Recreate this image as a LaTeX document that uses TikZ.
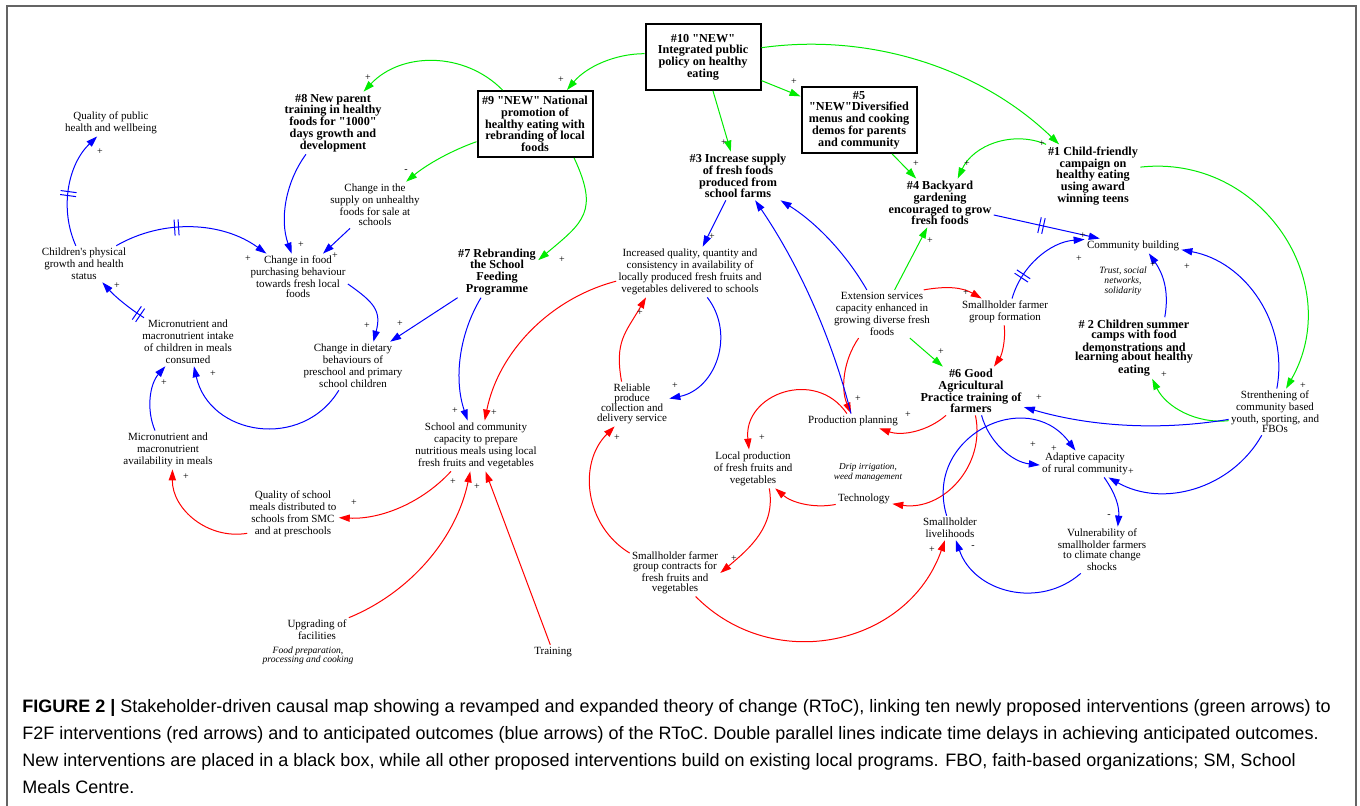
\documentclass[tikz,border=0pt]{standalone}
\usepackage{fontspec}
\setmainfont{Liberation Serif}[Ligatures=TeXOff]
\newfontfamily\capfont{Liberation Sans}
\usetikzlibrary{arrows.meta,decorations.markings,calc}
\definecolor{lgreen}{RGB}{0,235,0}
\definecolor{lred}{RGB}{255,0,0}
\definecolor{lblue}{RGB}{0,0,255}
\definecolor{framegray}{RGB}{100,100,100}
\newcommand\qq{\char34\relax}
\tikzset{
  tx/.style={align=center, inner sep=1pt, font=\fontsize{5.5}{6}\selectfont},
  txt/.style={tx, font=\fontsize{5.5}{5}\selectfont},
  bx/.style={align=center, inner sep=1pt, font=\bfseries\fontsize{6.1}{5.9}\selectfont},
  newbox/.style={bx, draw, line width=1pt, minimum width=57.5pt, minimum height=33pt},
  itx/.style={align=center, inner sep=0.5pt, font=\itshape\fontsize{4.6}{5}\selectfont},
  pol/.style={inner sep=0pt, font=\fontsize{5}{5}\selectfont},
  captxt/.style={inner sep=0pt, anchor=base west, font=\capfont\fontsize{9}{11}\selectfont},
  lk/.style={line width=0.5pt, -{Triangle[length=5.5pt,width=3.6pt]}},
  ga/.style={lk, draw=lgreen},
  ra/.style={lk, draw=lred},
  ba/.style={lk, draw=lblue},
  bl/.code={\pgfmathsetmacro\myls{4/3*tan(#1/2)/(0.783*sin(#1))}%
    \edef\myarcnext{\noexpand\pgfkeysalso{bend left=#1,looseness=\myls}}\myarcnext},
  br/.code={\pgfmathsetmacro\myls{4/3*tan(#1/2)/(0.783*sin(#1))}%
    \edef\myarcnext{\noexpand\pgfkeysalso{bend right=#1,looseness=\myls}}\myarcnext},
  dl/.style={postaction={decorate,decoration={markings,mark=at position #1 with
    {\draw[lblue,line width=0.5pt,-] (-2,-8)--(-2,8) (2,-8)--(2,8);}}}}
}
\begin{document}
\begin{tikzpicture}[x=0.5pt,y=0.5pt]
\useasboundingbox (0,0) rectangle (1360,-806);
\draw[framegray, line width=0.8pt] (7,-806) -- (7,-6) -- (1356,-6) -- (1356,-806);

% boxed new interventions
\node[newbox] (n10) at (703,-57) {\#10 \qq NEW\qq\\Integrated public\\policy on healthy\\eating};
\node[newbox] (n9) at (535,-124) {\#9 \qq NEW\qq{} National\\promotion of\\healthy eating with\\rebranding of local\\foods};
\node[newbox] (n5) at (859,-120) {\#5\\\qq NEW\qq Diversified\\menus and cooking\\demos for parents\\and community};

% bold interventions
\node[bx] (n8) at (333,-123) {\#8 New parent\\training in healthy\\foods for \qq 1000\qq\\days growth and\\development};
\node[bx] (n3) at (738,-176) {\#3 Increase supply\\of fresh foods\\produced from\\school farms};
\node[bx] (n1) at (1093,-176) {\#1 Child-friendly\\campaign on\\healthy eating\\using award\\winning teens};
\node[bx] (n4) at (940,-203) {\#4 Backyard\\gardening\\encouraged to grow\\fresh foods};
\node[bx] (n7) at (497,-272) {\#7 Rebranding\\the School\\Feeding\\Programme};
\node[bx, font=\bfseries\fontsize{6.1}{4.3}\selectfont] (n2) at (1134,-348) {\# 2 Children summer\\camps with food\\demonstrations and\\learning about healthy\\eating};
\node[bx] (n6) at (971,-391) {\#6 Good\\Agricultural\\Practice training of\\farmers};

% variables
\node[tx] (qph) at (111,-123) {Quality of public\\health and wellbeing};
\node[txt] (chs) at (375,-205) {Change in the\\supply on unhealthy\\foods for sale at\\schools};
\node[tx] (cpg) at (84,-264) {Children's physical\\growth and health\\status};
\node[txt] (cfp) at (298,-277) {Change in food\\purchasing behaviour\\towards fresh local\\foods};
\node[tx] (iqq) at (690,-272) {Increased quality, quantity and\\consistency in availability of\\locally produced fresh fruits and\\vegetables delivered to schools};
\node[tx] (ext) at (882,-314) {Extension services\\capacity enhanced in\\growing diverse fresh\\foods};
\node[tx] (sfg) at (1005,-312) {Smallholder farmer\\group formation};
\node[tx] (cbd) at (1133,-246) {Community building};
\node[itx, font=\itshape\fontsize{4.8}{3.8}\selectfont] (trust) at (1123,-281) {Trust, social\\networks,\\solidarity};
\node[tx] (mic) at (188,-342) {Micronutrient and\\macronutrient intake\\of children in meals\\consumed};
\node[tx] (cdb) at (353,-366) {Change in dietary\\behaviours of\\preschool and primary\\school children};
\node[txt] (rel) at (632,-404) {Reliable\\produce\\collection and\\delivery service};
\node[tx] (pp) at (853,-421) {Production planning};
\node[txt] (str) at (1275,-412) {Strenthening of\\community based\\youth, sporting, and\\FBOs};
\node[tx] (scc) at (476,-446) {School and community\\capacity to prepare\\nutritious meals using local\\fresh fruits and vegetables};
\node[tx] (mav) at (168,-450) {Micronutrient and\\macronutrient\\availability in meals};
\node[tx] (ada) at (1085,-464) {Adaptive capacity\\of rural community};
\node[tx] (lp) at (753,-469) {Local production\\of fresh fruits and\\vegetables};
\node[itx] (drip) at (868,-472) {Drip irrigation,\\weed management};
\node[tx] (tech) at (864,-499) {Technology};
\node[tx] (qsm) at (293,-514) {Quality of school\\meals distributed to\\schools from SMC\\and at preschools};
\node[tx] (sl) at (950,-528) {Smallholder\\livelihoods};
\node[txt] (vul) at (1102,-550) {Vulnerability of\\smallholder farmers\\to climate change\\shocks};
\node[txt] (sgc) at (675,-573) {Smallholder farmer\\group contracts for\\fresh fruits and\\vegetables};
\node[tx] (upg) at (317,-630) {Upgrading of\\facilities};
\node[itx, font=\itshape\fontsize{4.8}{4.5}\selectfont] (fprep) at (308,-655.5) {Food preparation,\\processing and cooking};
\node[tx] (trn) at (553,-652) {Training};

% green links
\draw[ga] (n10) to[br=25] (n9);
\draw[ga] (n9) to[br=46] (n8);
\draw[ga] (n9) to[br=10] (chs);
\draw[ga] (n9.-41) to[out=-65,in=40,looseness=1.4] (n7.16);
\draw[ga] (n10) -- (n3);
\draw[ga] (n10) -- (n5);
\draw[ga] (n10) to[bl=26] (n1);
\draw[ga] (n5) -- (n4);
\draw[ga] (n1) to[br=44] (n4);
\draw[ga] (n1) to[bl=63] (str);
\draw[ga] (ext) -- (n4);
\draw[ga] (ext) -- (n6);
\draw[ga] (str) to[bl=35] (n2);

% red links
\draw[ra] (ext.30) to[out=10,in=150] (sfg);
\draw[ra] (ext) to[br=29] (pp);
\draw[ra] (sfg) to[bl=20] (n6);
\draw[ra] (n6) to[bl=30] (pp);
\draw[ra] (n6) to[bl=55] (tech);
\draw[ra] (tech) to[bl=26] (lp);
\draw[ra] (pp) to[br=76] (lp);
\draw[ra] (lp.-50) to[out=-80,in=40] (sgc.east);
\draw[ra] (sgc) to[bl=52] (rel);
\draw[ra] (rel.115) to[out=100,in=240,looseness=1.2] (iqq.210);
\draw[ra] (iqq) to[br=32] (scc);
\draw[ra] (scc) to[bl=25] (qsm);
\draw[ra] (qsm) to[bl=50] (mav);
\draw[ra] (upg) to[br=28] (scc);
\draw[ra] (trn) -- (scc);
\draw[ra] (sgc) to[br=58] (sl);

% blue links
\draw[ba, dl=0.45] (cpg) to[bl=35] (qph);
\draw[ba, dl=0.4] (cpg) to[bl=33] (cfp);
\draw[ba] (n8) to[br=28] (cfp);
\draw[ba] (chs) -- (cfp);
\draw[ba] (cfp.-8) to[out=-35,in=75,looseness=1.3] (cdb.50);
\draw[ba] (n7) -- (cdb);
\draw[ba] (cdb) to[bl=68] (mic);
\draw[ba, dl=0.12] (mic) to[bl=8] (cpg);
\draw[ba] (mav) to[bl=32] (mic.227);
\draw[ba] (n7) to[br=25] (scc);
\draw[ba] (n3) -- (iqq);
\draw[ba] (iqq) to[bl=58] (rel);
\draw[ba] (pp) to[br=10] (n3);
\draw[ba] (ext) to[br=14] (n3);
\draw[ba, dl=0.45] (n4) -- (cbd);
\draw[ba, dl=0.25] (sfg) to[bl=35] (cbd);
\draw[ba] (n2.45) to[out=80,in=-55] (cbd.-25);
\draw[ba] (str) to[br=45] (cbd);
\draw[ba] (str) to[bl=13] (n6);
\draw[ba] (n6) to[br=34] (ada);
\draw[ba] (str) to[bl=45] (ada);
\draw[ba] (ada.-35) to[out=-55,in=85] (vul.56);
\draw[ba] (vul) to[bl=56] (sl);
\draw[ba] (sl) to[bl=80] (ada);

% polarity labels
\foreach \n/\x/\y/\s in {p1/561/80/+, p2/368/78/+, p3/406/171/-, p4/562/260/+, p5/724/143/+,
  p6/794/82/+, p7/1042/144/+, p8/916/164/+, p9/967/164/+, p10/1303/386/+, p11/930/241/+,
  p12/941/352/+, p13/1164/375/+, p14/966/293/+, p15/858/399/+, p17/908/415/+, p20/762/438/+,
  p21/734/559/+, p22/617/438/+, p23/640/313/+, p24/494/413/+, p25/354/503/+, p26/186/477/+,
  p27/453/482/+, p28/477/487/+, p29/932/550/+, p30/100/152/+, p31/248/259/+, p32/301/245/+,
  p33/335/256/+, p34/367/326/+, p35/400/324/+, p36/213/374/+, p37/117/286/+, p38/164/383/+,
  p39/455/411/+, p40/712/237/+, p41/675/386/+, p44/1083/236/+, p45/1079/259/+, p46/1153/265/+,
  p47/1187/267/+, p48/1039/398/+, p49/1033/445/+, p50/1131/472/+, p51/1109/516/-, p52/973/547/-,
  p53/1054/449/+}
  \node[pol] (\n) at (\x,-\y) {\s};

% caption
\node[captxt] (c1) at (22,-712) {\textbf{FIGURE 2 |} Stakeholder-driven causal map showing a revamped and expanded theory of change (RToC), linking ten newly proposed interventions (green arrows) to};
\node[captxt] (c2) at (22,-739) {F2F interventions (red arrows) and to anticipated outcomes (blue arrows) of the RToC. Double parallel lines indicate time delays in achieving anticipated outcomes.};
\node[captxt] (c3) at (22,-766) {New interventions are placed in a black box, while all other proposed interventions build on existing local programs. FBO, faith-based organizations; SM, School};
\node[captxt] (c4) at (22,-793) {Meals Centre.};
\end{tikzpicture}
\end{document}
